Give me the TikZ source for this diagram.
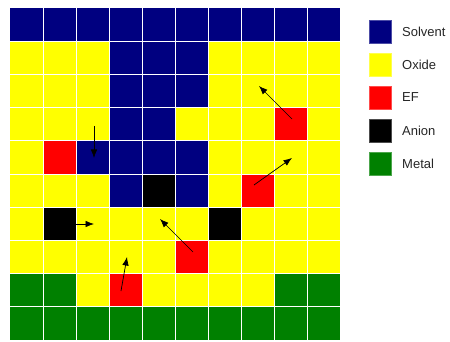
\documentclass[tikz,border=0pt]{standalone}
\usepackage{fontspec}
\setmainfont{Liberation Sans}
\usetikzlibrary{arrows.meta}
\definecolor{cS}{RGB}{0,0,128}
\definecolor{cO}{RGB}{255,255,0}
\definecolor{cE}{RGB}{255,0,0}
\definecolor{cA}{RGB}{0,0,0}
\definecolor{cM}{RGB}{0,128,0}
\tikzset{
  gridline/.style={white, line width=0.8pt},
  movearrow/.style={black, line width=0.7pt, -{Latex[length=8.5pt,width=6.5pt]}},
  legbox/.style={minimum width=22pt, minimum height=23pt, inner sep=0pt, draw=#1!70!white, line width=0.4pt, fill=#1},
  leglabel/.style={anchor=west, inner sep=0pt, font=\fontsize{13pt}{15pt}\selectfont, text=black!85}
}
\begin{document}
\begin{tikzpicture}[x=1pt,y=-1pt]
\useasboundingbox (0,0) rectangle (450,342);
\fill[white] (0,0) rectangle (450,342);
\def\cw{33}
\def\ch{33.2}
\foreach \rowlist [count=\r from 0] in {
  {S,S,S,S,S,S,S,S,S,S},
  {O,O,O,S,S,S,O,O,O,O},
  {O,O,O,S,S,S,O,O,O,O},
  {O,O,O,S,S,O,O,O,E,O},
  {O,E,S,S,S,S,O,O,O,O},
  {O,O,O,S,A,S,O,E,O,O},
  {O,A,O,O,O,O,A,O,O,O},
  {O,O,O,O,O,E,O,O,O,O},
  {M,M,O,E,O,O,O,O,M,M},
  {M,M,M,M,M,M,M,M,M,M}}{
  \foreach \c [count=\k from 0] in \rowlist {
    \fill[c\c] ({10+\cw*\k},{8+\ch*\r}) rectangle ++(\cw,\ch);
  }
}
\foreach \k in {1,...,9}{
  \draw[gridline] ({10+\cw*\k},8) -- ({10+\cw*\k},340);
  \draw[gridline] (10,{8+\ch*\k}) -- (340,{8+\ch*\k});
}
% arrows
\coordinate (a1s) at (94,126);  \coordinate (a1e) at (94,158);
\coordinate (a2s) at (292,119); \coordinate (a2e) at (259,86);
\coordinate (a3s) at (254,185); \coordinate (a3e) at (292,158);
\coordinate (a4s) at (76,224);  \coordinate (a4e) at (94,224);
\coordinate (a5s) at (193,252); \coordinate (a5e) at (160,219);
\coordinate (a6s) at (121,291); \coordinate (a6e) at (127,257);
\foreach \i in {1,...,6}{
  \draw[movearrow] (a\i s) -- (a\i e);
}
% legend
\node[legbox=cS] (lS) at (380,31.5) {};
\node[legbox=cO] (lO) at (380,64.5) {};
\node[legbox=cE] (lE) at (380,97.5) {};
\node[legbox=cA] (lA) at (380,130.5) {};
\node[legbox=cM] (lM) at (380,163.5) {};
\node[leglabel] (tS) at (402,31.5) {Solvent};
\node[leglabel] (tO) at (402,64.5) {Oxide};
\node[leglabel] (tE) at (402,97.5) {EF};
\node[leglabel] (tA) at (402,130.5) {Anion};
\node[leglabel] (tM) at (402,163.5) {Metal};
\end{tikzpicture}
\end{document}
